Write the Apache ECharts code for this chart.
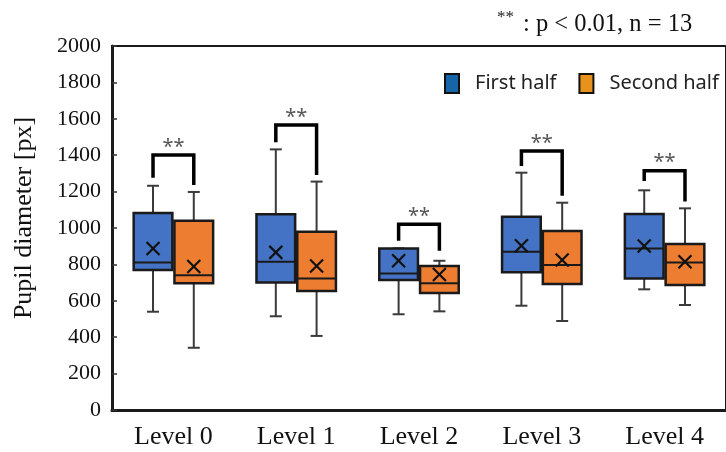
<!DOCTYPE html>
<html>
<head>
<meta charset="utf-8">
<script src="https://cdn.jsdelivr.net/npm/echarts@6/dist/echarts.min.js"></script>
<style>html,body{margin:0;padding:0;background:#fff;}#chart{width:726px;height:452px;}</style>
</head>
<body>
<div id="chart"></div>
<script>
const categories = ['Level 0', 'Level 1', 'Level 2', 'Level 3', 'Level 4'];
const seriesNames = ['First half', 'Second half'];
const yMin = 0, yMax = 2000, yInterval = 200;

const firstMin = [540, 515, 526, 573, 663];
const firstQ1 = [769, 700, 714, 757, 723];
const firstMedian = [811, 815, 750, 870, 888];
const firstQ3 = [1083, 1076, 888, 1062, 1077];
const firstMax = [1232, 1432, 888, 1304, 1207];
const firstMean = [887, 866, 820, 903, 901];

const secondMin = [342, 407, 542, 489, 577];
const secondQ1 = [696, 654, 643, 692, 687];
const secondMedian = [740, 723, 696, 797, 811];
const secondQ3 = [1040, 980, 791, 984, 912];
const secondMax = [1198, 1255, 820, 1139, 1108];
const secondMean = [788, 791, 745, 824, 815];

const bracketTop = [1401, 1566, 1021, 1423, 1315];
const bracketLeftEnd = [1276, 1471, 930, 1341, 1258];
const bracketRightEnd = [1236, 1291, 875, 1177, 1145];
const sigLabel = '**';
const noteStars = '**';
const noteText = ': p < 0.01, n = 13';

const boxColors = ['#4472C4', '#ED7D31'];
const legendColors = ['#1565A8', '#E8921C'];
const OFFSET = 0.166, BOXW = 0.315;

function boxData(mins, q1s, meds, q3s, maxs, means) {
  return categories.map((c, i) => [i, mins[i], q1s[i], meds[i], q3s[i], maxs[i], means[i]]);
}

function makeBoxRender(sIdx) {
  return function (params, api) {
    const idx = api.value(0);
    const cx0 = api.coord([idx, 0])[0];
    const band = api.size([1, 0])[0];
    const cx = cx0 + (sIdx === 0 ? -1 : 1) * OFFSET * band;
    const w = BOXW * band;
    const y = k => api.coord([idx, api.value(k)])[1];
    const yMn = y(1), yQ1 = y(2), yMd = y(3), yQ3 = y(4), yMx = y(5), yMean = y(6);
    const wStyle = { stroke: '#3a3a3a', lineWidth: 2 };
    const cap = 6;
    const m = 6.5;
    return {
      type: 'group',
      children: [
        { type: 'line', shape: { x1: cx, y1: yMx, x2: cx, y2: yQ3 }, style: wStyle },
        { type: 'line', shape: { x1: cx, y1: yQ1, x2: cx, y2: yMn }, style: wStyle },
        { type: 'line', shape: { x1: cx - cap, y1: yMx, x2: cx + cap, y2: yMx }, style: wStyle },
        { type: 'line', shape: { x1: cx - cap, y1: yMn, x2: cx + cap, y2: yMn }, style: wStyle },
        { type: 'rect', shape: { x: cx - w / 2, y: yQ3, width: w, height: yQ1 - yQ3 },
          style: { fill: boxColors[sIdx], stroke: '#1a1a1a', lineWidth: 2.5 } },
        { type: 'line', shape: { x1: cx - w / 2, y1: yMd, x2: cx + w / 2, y2: yMd },
          style: { stroke: '#1a1a1a', lineWidth: 2 } },
        { type: 'line', shape: { x1: cx - m, y1: yMean - m, x2: cx + m, y2: yMean + m },
          style: { stroke: '#111', lineWidth: 2.2 } },
        { type: 'line', shape: { x1: cx - m, y1: yMean + m, x2: cx + m, y2: yMean - m },
          style: { stroke: '#111', lineWidth: 2.2 } }
      ]
    };
  };
}

function bracketRender(params, api) {
  const idx = api.value(0);
  const cx0 = api.coord([idx, 0])[0];
  const band = api.size([1, 0])[0];
  const xl = cx0 - OFFSET * band, xr = cx0 + OFFSET * band;
  const yt = api.coord([idx, api.value(1)])[1];
  const yl = api.coord([idx, api.value(2)])[1];
  const yr = api.coord([idx, api.value(3)])[1];
  return {
    type: 'group',
    children: [
      { type: 'polyline', shape: { points: [[xl, yl], [xl, yt], [xr, yt], [xr, yr]] },
        style: { stroke: '#000', lineWidth: 3.5, fill: null, lineJoin: 'miter' } },
      { type: 'text', style: { x: cx0, y: yt + 2, text: sigLabel, align: 'center', verticalAlign: 'bottom',
        font: '20px "Noto Sans", sans-serif', fill: '#555' } }
    ]
  };
}

const chart = echarts.init(document.getElementById('chart'), null, { renderer: 'canvas' });
chart.setOption({
  animation: false,
  backgroundColor: '#fff',
  grid: { left: 112, right: -5, top: 46, bottom: 42, show: true, borderColor: '#1a1a1a', borderWidth: 2, backgroundColor: 'transparent' },
  legend: {
    left: 439, top: 68, itemWidth: 14, itemHeight: 19, itemGap: 22, icon: 'rect',
    textStyle: { fontSize: 20, fontFamily: '"Noto Sans", sans-serif', color: '#222', padding: [0, 0, 0, 11] },
    data: seriesNames.map((n, i) => ({ name: n, itemStyle: { color: legendColors[i], borderColor: '#111', borderWidth: 2 } }))
  },
  xAxis: {
    type: 'category', data: categories, boundaryGap: true,
    axisLine: { lineStyle: { color: '#1a1a1a', width: 3 } },
    axisTick: { show: false },
    axisLabel: { fontFamily: '"Liberation Serif", serif', fontSize: 26, color: '#111', margin: 14 }
  },
  yAxis: {
    type: 'value', min: yMin, max: yMax, interval: yInterval,
    name: 'Pupil diameter [px]', nameLocation: 'middle', nameGap: 75,
    nameTextStyle: { fontFamily: '"Liberation Serif", serif', fontSize: 26, color: '#111', padding: [0, 0, 0, 20] },
    axisLine: { show: true, lineStyle: { color: '#1a1a1a', width: 3 } },
    axisTick: { show: true, inside: true, length: 5, lineStyle: { color: '#333', width: 1.5 } },
    axisLabel: { fontFamily: '"Liberation Serif", serif', fontSize: 22, color: '#111', margin: 11,
      formatter: v => String(v) },
    splitLine: { show: false }
  },
  graphic: [
    { type: 'text', left: 497, top: 9, style: { text: noteStars, font: '17px "Liberation Serif", serif', fill: '#222' } },
    { type: 'text', left: 523, top: 12, style: { text: noteText, font: '24.5px "Liberation Serif", serif', fill: '#111' } }
  ],
  series: [
    { name: seriesNames[0], type: 'custom', renderItem: makeBoxRender(0), itemStyle: { color: legendColors[0] },
      encode: { x: 0, y: [1, 2, 3, 4, 5] }, data: boxData(firstMin, firstQ1, firstMedian, firstQ3, firstMax, firstMean), z: 3 },
    { name: seriesNames[1], type: 'custom', renderItem: makeBoxRender(1), itemStyle: { color: legendColors[1] },
      encode: { x: 0, y: [1, 2, 3, 4, 5] }, data: boxData(secondMin, secondQ1, secondMedian, secondQ3, secondMax, secondMean), z: 3 },
    { name: 'sig', type: 'custom', renderItem: bracketRender, encode: { x: 0, y: [1, 2, 3] },
      data: categories.map((c, i) => [i, bracketTop[i], bracketLeftEnd[i], bracketRightEnd[i]]), z: 4 }
  ]
});
</script>
</body>
</html>
